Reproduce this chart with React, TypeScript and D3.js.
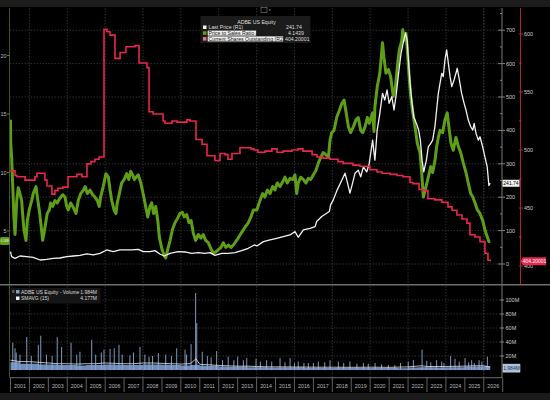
import React from "react";
import * as d3 from "d3";

// Price to Sales Ratio (L1) – [decimal year, ratio]
const priceToSales: [number, number][] = [
  [2001.0, 14.5], [2001.01, 12.5], [2001.06, 11.3], [2001.12, 8.8], [2001.18, 6.2], [2001.24, 4.7],
  [2001.33, 7.6], [2001.41, 8.7], [2001.5, 8.2], [2001.59, 7.6], [2001.64, 6.5], [2001.71, 5.1],
  [2001.82, 4.2], [2001.89, 5.9], [2001.99, 6.8], [2002.12, 7.6], [2002.2, 8.2], [2002.35, 8.8],
  [2002.42, 7.9], [2002.52, 6.8], [2002.6, 5.7], [2002.7, 4.2], [2002.77, 4.8], [2002.82, 5.3],
  [2002.88, 5.9], [2002.94, 6.5], [2003.05, 6.8], [2003.12, 7.4], [2003.23, 7.1], [2003.35, 7.6],
  [2003.47, 7.4], [2003.61, 7.8], [2003.76, 8.1], [2003.88, 7.9], [2003.97, 7.1], [2004.05, 6.8],
  [2004.18, 7.4], [2004.32, 7.0], [2004.46, 6.5], [2004.58, 7.6], [2004.71, 8.2], [2004.85, 8.5],
  [2004.94, 8.8], [2005.06, 8.2], [2005.2, 8.5], [2005.34, 8.1], [2005.46, 7.9], [2005.59, 7.6],
  [2005.69, 7.1], [2005.76, 7.9], [2005.9, 8.8], [2006.04, 9.9], [2006.17, 9.6], [2006.26, 8.5],
  [2006.35, 7.6], [2006.47, 6.8], [2006.57, 6.5], [2006.64, 7.4], [2006.75, 8.2], [2006.87, 9.1],
  [2007.0, 9.4], [2007.14, 9.9], [2007.25, 9.4], [2007.35, 10.1], [2007.45, 9.8], [2007.54, 9.4],
  [2007.75, 9.8], [2007.89, 9.1], [2008.02, 8.1], [2008.14, 7.1], [2008.25, 6.2], [2008.37, 7.1],
  [2008.46, 7.4], [2008.56, 6.5], [2008.67, 7.1], [2008.78, 5.9], [2008.86, 4.5], [2008.99, 3.5],
  [2009.12, 2.9], [2009.2, 2.7], [2009.3, 3.4], [2009.43, 4.2], [2009.55, 5.1], [2009.69, 5.7],
  [2009.83, 6.1], [2009.95, 6.5], [2010.08, 6.6], [2010.18, 6.2], [2010.31, 6.4], [2010.43, 5.7],
  [2010.54, 5.9], [2010.66, 4.8], [2010.78, 4.2], [2010.92, 4.7], [2011.06, 4.4], [2011.18, 4.7],
  [2011.31, 4.2], [2011.45, 4.0], [2011.59, 3.5], [2011.71, 3.1], [2011.84, 3.2], [2011.98, 3.4],
  [2012.12, 3.6], [2012.24, 4.0], [2012.37, 3.6], [2012.51, 3.8], [2012.65, 3.6], [2012.77, 3.8],
  [2012.9, 4.1], [2013.03, 4.4], [2013.18, 4.8], [2013.3, 5.1], [2013.42, 5.4], [2013.56, 5.7],
  [2013.7, 6.2], [2013.83, 6.8], [2014.01, 6.8], [2014.18, 7.6], [2014.32, 8.2], [2014.44, 7.9],
  [2014.57, 8.5], [2014.71, 8.2], [2014.85, 8.8], [2014.97, 8.5], [2015.09, 9.1], [2015.24, 8.8],
  [2015.38, 9.2], [2015.5, 9.6], [2015.62, 9.1], [2015.77, 9.5], [2015.91, 9.4], [2016.03, 9.8],
  [2016.12, 8.2], [2016.2, 9.1], [2016.33, 9.6], [2016.47, 9.4], [2016.61, 9.1], [2016.73, 9.5],
  [2016.86, 9.4], [2017.0, 9.8], [2017.14, 10.2], [2017.26, 10.8], [2017.39, 11.3], [2017.52, 11.7],
  [2017.67, 11.5], [2017.79, 11.3], [2017.88, 12.8], [2017.97, 13.4], [2018.09, 13.6], [2018.23, 14.7],
  [2018.37, 15.3], [2018.5, 15.9], [2018.62, 16.2], [2018.73, 15.1], [2018.85, 13.9], [2018.97, 13.4],
  [2019.11, 13.9], [2019.25, 14.5], [2019.37, 14.7], [2019.5, 13.6], [2019.61, 13.4], [2019.73, 13.9],
  [2019.85, 14.7], [2019.95, 14.2], [2020.13, 15.1], [2020.2, 13.5], [2020.25, 15.6], [2020.37, 17.3],
  [2020.51, 18.5], [2020.65, 21.1], [2020.72, 19.9], [2020.83, 18.5], [2020.96, 18.8], [2021.08, 18.2],
  [2021.22, 16.5], [2021.33, 17.3], [2021.43, 19.0], [2021.54, 20.5], [2021.67, 21.3], [2021.72, 22.2],
  [2021.82, 21.3], [2021.89, 21.9], [2021.96, 20.5], [2022.07, 17.9], [2022.14, 16.5], [2022.25, 15.1],
  [2022.37, 13.9], [2022.49, 12.5], [2022.63, 11.7], [2022.72, 10.0], [2022.81, 7.9], [2022.95, 8.8],
  [2023.07, 9.6], [2023.2, 10.5], [2023.3, 10.0], [2023.43, 11.1], [2023.51, 12.2], [2023.6, 13.0],
  [2023.69, 13.6], [2023.83, 13.4], [2023.95, 14.5], [2024.07, 15.1], [2024.18, 13.6], [2024.27, 12.5],
  [2024.39, 11.9], [2024.53, 13.0], [2024.66, 12.2], [2024.78, 11.7], [2024.92, 10.8], [2025.06, 10.0],
  [2025.18, 9.1], [2025.31, 8.2], [2025.42, 7.9], [2025.54, 7.4], [2025.66, 6.8], [2025.8, 6.5],
  [2025.94, 5.9], [2026.06, 5.1], [2026.18, 4.5], [2026.27, 4.1], [2026.34, 4.1439],
];

// Last Price (R1)
const lastPrice: [number, number][] = [
  [2001.0, 37], [2001.06, 22], [2001.24, 17], [2001.5, 24], [2001.86, 22], [2002.2, 20],
  [2002.56, 12], [2002.91, 14], [2003.26, 17], [2003.61, 18], [2003.97, 22], [2004.32, 24],
  [2004.67, 26], [2005.03, 30], [2005.37, 27], [2005.73, 32], [2006.08, 42], [2006.43, 37],
  [2006.78, 42], [2007.14, 42], [2007.4, 42], [2007.75, 44], [2008.02, 37], [2008.37, 37],
  [2008.63, 40], [2008.89, 30], [2009.12, 24], [2009.43, 32], [2009.86, 37], [2010.22, 36],
  [2010.57, 32], [2010.92, 34], [2011.27, 32], [2011.54, 34], [2011.8, 26], [2012.16, 32],
  [2012.51, 32], [2012.86, 34], [2013.21, 40], [2013.56, 47], [2013.88, 57], [2014.01, 54],
  [2014.36, 67], [2014.71, 72], [2015.06, 77], [2015.41, 82], [2015.76, 87], [2016.03, 97],
  [2016.2, 80], [2016.47, 102], [2016.82, 107], [2017.09, 112], [2017.17, 127], [2017.44, 142],
  [2017.7, 152], [2017.84, 157], [2017.91, 177], [2018.05, 192], [2018.26, 222], [2018.5, 251],
  [2018.67, 272], [2018.79, 246], [2018.93, 212], [2019.02, 231], [2019.2, 272], [2019.37, 281],
  [2019.5, 261], [2019.64, 291], [2019.82, 276], [2019.95, 301], [2020.13, 371], [2020.25, 311],
  [2020.37, 401], [2020.51, 451], [2020.65, 511], [2020.77, 491], [2020.89, 521], [2021.0, 481],
  [2021.14, 501], [2021.26, 461], [2021.38, 511], [2021.5, 571], [2021.63, 631], [2021.74, 661],
  [2021.86, 691], [2021.95, 671], [2022.03, 601], [2022.12, 531], [2022.21, 481], [2022.3, 441],
  [2022.44, 421], [2022.56, 401], [2022.65, 371], [2022.74, 311], [2022.83, 276], [2022.97, 311],
  [2023.07, 351], [2023.2, 361], [2023.3, 371], [2023.42, 411], [2023.51, 461], [2023.6, 511],
  [2023.69, 541], [2023.78, 571], [2023.86, 561], [2023.95, 611], [2024.04, 641], [2024.13, 601],
  [2024.22, 561], [2024.31, 531], [2024.43, 551], [2024.53, 571], [2024.6, 586], [2024.71, 551],
  [2024.83, 511], [2024.96, 481], [2025.06, 461], [2025.18, 431], [2025.31, 411], [2025.42, 401],
  [2025.49, 421], [2025.59, 391], [2025.71, 371], [2025.8, 381], [2025.94, 351], [2026.06, 321],
  [2026.18, 291], [2026.27, 235], [2026.34, 241.74],
];

// Current Shares Outstanding (R2), millions – step start
const sharesOut: [number, number][] = [
  [2001.0, 482], [2001.24, 478], [2001.34, 477], [2001.77, 474], [2002.29, 477], [2002.4, 480],
  [2002.82, 474], [2002.93, 469], [2003.19, 462], [2003.35, 465], [2003.51, 467], [2003.77, 468],
  [2004.04, 477], [2004.51, 479], [2004.78, 477], [2005.04, 488], [2005.25, 490], [2005.46, 492],
  [2005.68, 494], [2005.94, 604], [2006.1, 602], [2006.26, 599], [2006.52, 579], [2006.79, 584],
  [2007.1, 589], [2007.58, 590], [2007.79, 575], [2008.21, 571], [2008.32, 533], [2008.53, 531],
  [2009.06, 525], [2009.16, 523], [2009.53, 525], [2009.8, 524], [2010.32, 526], [2010.48, 525],
  [2010.8, 509], [2011.12, 505], [2011.38, 495], [2011.8, 491], [2012.07, 497], [2012.33, 496],
  [2012.49, 492], [2012.7, 497], [2013.12, 502], [2013.7, 501], [2013.85, 500], [2014.07, 498],
  [2014.44, 499], [2014.81, 501], [2015.08, 498], [2015.4, 499], [2015.87, 500], [2016.19, 501],
  [2016.45, 499], [2016.93, 496], [2017.19, 494], [2017.51, 493], [2017.88, 492], [2018.3, 490],
  [2018.57, 488.5], [2019.09, 487], [2019.46, 486], [2019.99, 483], [2020.36, 481], [2020.63, 480],
  [2021.05, 479], [2021.42, 478], [2021.73, 477], [2022.1, 472], [2022.26, 471], [2022.58, 466],
  [2022.79, 465], [2023.05, 458], [2023.42, 457], [2023.79, 455], [2024.11, 451], [2024.32, 448],
  [2024.58, 444], [2024.85, 440.5], [2025.11, 437], [2025.27, 427], [2025.53, 425], [2025.8, 421],
  [2026.06, 411], [2026.22, 405], [2026.34, 404.20001],
];

// Volume (millions): dense base, spikes, 15-day moving average
const volumeBase: [number, number][] = [
  [2001.0, 11], [2001.5, 9], [2002.0, 9], [2002.5, 8], [2003.0, 8], [2003.5, 7], [2004.0, 7],
  [2004.5, 6.5], [2005.0, 7], [2005.5, 7], [2006.0, 8], [2006.5, 7.5], [2007.0, 7], [2007.5, 7],
  [2008.0, 8], [2008.5, 8], [2009.0, 7.5], [2009.5, 7], [2010.0, 6.5], [2010.5, 7], [2011.0, 6],
  [2011.5, 6], [2012.0, 5], [2012.5, 4.5], [2013.0, 4.5], [2013.5, 4], [2014.0, 4], [2014.5, 3.5],
  [2015.0, 3.5], [2015.5, 3.5], [2016.0, 3.5], [2016.5, 3], [2017.0, 3], [2018.0, 3], [2019.0, 3],
  [2020.0, 3], [2021.0, 3], [2021.5, 2.5], [2022.0, 3.5], [2022.5, 4], [2023.0, 4], [2023.5, 3.5],
  [2024.0, 4], [2024.5, 4], [2025.0, 4.5], [2025.5, 5], [2026.0, 5.5], [2026.34, 2],
];

const volumeSpikes: [number, number][] = [
  [2001.12, 39], [2001.24, 31], [2001.3, 25], [2001.5, 22], [2001.86, 47], [2002.1, 20],
  [2002.47, 36], [2002.6, 49], [2002.9, 22], [2003.2, 20], [2003.47, 47], [2003.7, 33],
  [2004.2, 39], [2004.5, 22], [2004.67, 26], [2005.29, 43], [2005.5, 22], [2005.8, 25],
  [2005.94, 29], [2006.26, 30], [2006.48, 31], [2006.73, 36], [2006.9, 22], [2007.31, 21],
  [2007.5, 25], [2007.84, 33], [2008.1, 22], [2008.32, 19], [2008.5, 20], [2008.81, 24],
  [2009.2, 22], [2009.5, 20], [2009.78, 31], [2010.22, 29], [2010.3, 22], [2010.54, 37],
  [2010.78, 110], [2010.84, 67], [2011.13, 26], [2011.4, 20], [2011.6, 18], [2011.89, 27],
  [2012.2, 14], [2012.5, 19], [2012.8, 14], [2013.0, 19], [2013.3, 14], [2013.48, 17],
  [2013.97, 16], [2014.2, 12], [2014.53, 14], [2014.8, 12], [2015.24, 17], [2015.5, 11],
  [2015.77, 17], [2016.0, 10], [2016.2, 12], [2016.5, 10], [2016.73, 10], [2017.0, 10],
  [2017.26, 12], [2017.6, 11], [2017.88, 14], [2018.32, 12], [2018.6, 10], [2018.93, 12],
  [2019.3, 9], [2019.64, 10], [2019.9, 9], [2020.26, 10], [2020.6, 8], [2020.96, 7],
  [2021.3, 7], [2021.6, 10], [2022.01, 12], [2022.28, 14], [2022.74, 29], [2022.99, 13],
  [2023.2, 11], [2023.51, 14], [2023.78, 12], [2023.9, 10], [2024.25, 20], [2024.48, 16],
  [2024.7, 12], [2025.01, 17], [2025.2, 11], [2025.36, 14], [2025.5, 10], [2025.75, 14],
  [2025.9, 12], [2026.19, 19],
];

const volumeSmavg: [number, number][] = [
  [2001.0, 14], [2001.5, 12], [2002.0, 12], [2002.5, 11], [2003.0, 10], [2003.5, 9], [2004.0, 9],
  [2004.5, 8.5], [2005.0, 9], [2005.5, 9], [2006.0, 10], [2006.5, 9.5], [2007.0, 9], [2007.5, 9],
  [2008.0, 10], [2008.5, 10], [2009.0, 9.5], [2009.5, 9], [2010.0, 8.5], [2010.5, 9], [2010.8, 16],
  [2011.0, 8], [2011.5, 7.5], [2012.0, 6.5], [2012.5, 6], [2013.0, 5.5], [2013.5, 5.5], [2014.0, 5],
  [2014.5, 4.5], [2015.0, 4.5], [2016.0, 4.3], [2017.0, 4], [2018.0, 4], [2019.0, 3.8],
  [2020.0, 4], [2021.0, 3.8], [2022.0, 4.5], [2022.7, 6], [2023.0, 5], [2024.0, 5], [2025.0, 5.5],
  [2025.5, 6], [2026.0, 6], [2026.34, 4.177],
];

const years = d3.range(2001, 2027);
const priceTicks = [0, 100, 200, 300, 400, 500, 600, 700];
const sharesTicks = [400, 450, 500, 550, 600];
const psTicks = [5, 10, 15, 20];
const volTicks = [20, 40, 60, 80, 100];

const FONT = "'Liberation Sans', Arial, sans-serif";

const toDate = (t: number) => {
  const y = Math.floor(t);
  const a = new Date(y, 0, 1).getTime();
  const b = new Date(y + 1, 0, 1).getTime();
  return new Date(a + (t - y) * (b - a));
};

export default function App() {
  const x = d3.scaleTime().domain([new Date(2001, 0, 1), new Date(2027, 0, 1)]).range([10.5, 502.7]);
  const yPrice = d3.scaleLinear().domain([0, 700]).range([264, 30.2]);
  const yPS = d3.scaleLinear().domain([0, 20]).range([289.5, 55.5]);
  const yShares = d3.scaleLinear().domain([400, 600]).range([266, 34]);
  const yVol = d3.scaleLinear().domain([0, 100]).range([370, 300]);

  const lineFor = (ys: d3.ScaleLinear<number, number>, curve = d3.curveLinear) =>
    d3.line<[number, number]>().x((d) => x(toDate(d[0]))).y((d) => ys(d[1])).curve(curve);

  const psPath = lineFor(yPS)(priceToSales) || "";
  const pricePath = lineFor(yPrice)(lastPrice) || "";
  const sharesPath = lineFor(yShares, d3.curveStepAfter)(sharesOut) || "";
  const smavgPath = lineFor(yVol)(volumeSmavg) || "";
  const baseArea =
    d3
      .area<[number, number]>()
      .x((d) => x(toDate(d[0])))
      .y0(yVol(0))
      .y1((d) => yVol(d[1]))
      .curve(d3.curveStepAfter)(volumeBase) || "";

  const evenYears = years.filter((y) => y % 2 === 0).concat([2026]);
  const gridColor = "#3b3b3b";
  const lastPS = priceToSales[priceToSales.length - 1][1];
  const lastPx = lastPrice[lastPrice.length - 1][1];
  const lastSh = sharesOut[sharesOut.length - 1][1];

  return (
    <svg
      width={550}
      height={400}
      style={{ position: "absolute", left: 0, top: 0, background: "#000" }}
      fontFamily={FONT}
    >
      <defs>
        <clipPath id="mainClip">
          <rect x={9.5} y={8} width={492.5} height={276} />
        </clipPath>
        <clipPath id="volClip">
          <rect x={9.5} y={286} width={492.5} height={91} />
        </clipPath>
      </defs>
      <rect x={0} y={0} width={550} height={400} fill="#000" />
      <rect x={0} y={0} width={550} height={7} fill="#1c1c1c" />
      <rect x={0} y={393} width={550} height={7} fill="#1a1a1a" />

      {/* grids */}
      {priceTicks.map((t) => (
        <line key={"hg" + t} x1={9.5} x2={502} y1={yPrice(t)} y2={yPrice(t)} stroke={gridColor} strokeDasharray="1.5,1.5" strokeWidth={0.8} />
      ))}
      {evenYears.map((y) => (
        <g key={"vg" + y}>
          <line x1={x(toDate(y))} x2={x(toDate(y))} y1={8} y2={284} stroke={gridColor} strokeDasharray="1.5,1.5" strokeWidth={0.8} />
          <line x1={x(toDate(y))} x2={x(toDate(y))} y1={286} y2={377} stroke={gridColor} strokeDasharray="1.5,1.5" strokeWidth={0.8} />
        </g>
      ))}
      {volTicks.map((t) => (
        <line key={"vh" + t} x1={9.5} x2={502} y1={yVol(t)} y2={yVol(t)} stroke={gridColor} strokeDasharray="1.5,1.5" strokeWidth={0.8} />
      ))}

      {/* main series */}
      <g clipPath="url(#mainClip)">
        <path d={psPath} fill="none" stroke="#5f9e17" strokeWidth={3} strokeLinejoin="round" />
        <path d={pricePath} fill="none" stroke="#f2f2f2" strokeWidth={1.3} strokeLinejoin="round" />
        <path d={sharesPath} fill="none" stroke="#e8264e" strokeWidth={1.6} />
      </g>

      {/* axes of main panel */}
      <line x1={9.5} x2={9.5} y1={8} y2={377} stroke="#3d5530" strokeWidth={1} />
      {psTicks.map((t) => (
        <g key={"ps" + t}>
          <line x1={7} x2={9.5} y1={yPS(t)} y2={yPS(t)} stroke="#6aa020" strokeWidth={0.8} />
          <text x={6.5} y={yPS(t) + 2} fontSize={5.5} fill="#bbb" textAnchor="end">{t}</text>
        </g>
      ))}
      <line x1={502} x2={502} y1={8} y2={378} stroke="#777" strokeWidth={1} />
      {d3.range(0, 751, 50).map((t) => (
        <line key={"pt" + t} x1={t % 100 === 0 ? 498 : 500} x2={t % 100 === 0 ? 505 : 502} y1={yPrice(t)} y2={yPrice(t)} stroke="#999" strokeWidth={0.8} />
      ))}
      {priceTicks.map((t) => (
        <text key={"pl" + t} x={506} y={yPrice(t) + 2} fontSize={5.5} fill="#ccc">{t}</text>
      ))}
      <line x1={520.5} x2={520.5} y1={8} y2={284} stroke="#b51a38" strokeWidth={1} />
      {d3.range(400, 611, 25).map((t) => (
        <line key={"st" + t} x1={519} x2={t % 50 === 0 ? 523 : 521.5} y1={yShares(t)} y2={yShares(t)} stroke="#e8264e" strokeWidth={0.8} />
      ))}
      {sharesTicks.map((t) => (
        <text key={"sl" + t} x={524} y={yShares(t) + 2} fontSize={5.5} fill="#ccc">{t}</text>
      ))}

      {/* value tags */}
      <rect x={0} y={yPS(lastPS) - 4} width={9.5} height={8} rx={1.5} fill="#5f9e17" />
      <text x={4.8} y={yPS(lastPS) + 1} fontSize={2.6} fill="#fff" textAnchor="middle">{lastPS}</text>
      <rect x={502.5} y={yPrice(lastPx) - 3.5} width={17} height={7} fill="#f2f2f2" />
      <text x={511} y={yPrice(lastPx) + 1.8} fontSize={5} fill="#000" textAnchor="middle">{lastPx}</text>
      <path
        d={`M520.5,${yShares(lastSh)} L523,${yShares(lastSh) - 4} L546,${yShares(lastSh) - 4} L546,${yShares(lastSh) + 4} L523,${yShares(lastSh) + 4} Z`}
        fill="#e8264e"
      />
      <text x={534.5} y={yShares(lastSh) + 1.8} fontSize={5} fill="#fff" textAnchor="middle">{lastSh}</text>

      {/* legend */}
      <rect x={261} y={7.5} width={6} height={5} fill="none" stroke="#888" strokeWidth={0.6} />
      <path d="M268.5,9.5 L271,9.5 L269.75,11 Z" fill="#888" />
      <rect x={200.5} y={16} width={110} height={27} fill="#1b1b1b" />
      <text x={256.5} y={23.5} fontSize={5.2} fill="#ddd" textAnchor="middle">ADBE US Equity</text>
      <rect x={203} y={25.5} width={3.5} height={3.5} fill="#f2f2f2" />
      <text x={208.5} y={29} fontSize={5.2} fill="#ddd">Last Price  (R1)</text>
      <text x={286} y={29} fontSize={5.2} fill="#ddd">{lastPx}</text>
      <rect x={203} y={31.3} width={3.5} height={3.5} fill="#5f9e17" />
      <rect x={207.7} y={30.6} width={48.5} height={5} fill="#f0f0f0" />
      <text x={208.5} y={34.8} fontSize={5.2} fill="#111">Price to Sales Ratio  (L1)</text>
      <text x={288} y={34.8} fontSize={5.2} fill="#ddd">{lastPS}</text>
      <rect x={203} y={37.1} width={3.5} height={3.5} fill="#f06b86" />
      <rect x={207.7} y={36.4} width={75.5} height={5} fill="#f0f0f0" />
      <text x={208.5} y={40.6} fontSize={5.2} fill="#111">Current Shares Outstanding  (R2)</text>
      <text x={285} y={40.6} fontSize={5.2} fill="#ddd">{lastSh}</text>

      {/* panel separator */}
      <line x1={0} x2={550} y1={284.8} y2={284.8} stroke="#6f6f6f" strokeWidth={1.5} />

      {/* volume panel */}
      <g clipPath="url(#volClip)">
        <path d={baseArea} fill="#6d8dba" />
        {volumeSpikes.map(([t, v]) => (
          <line key={"vs" + t} x1={x(toDate(t))} x2={x(toDate(t))} y1={yVol(0)} y2={yVol(v)} stroke="#8eaad2" strokeWidth={0.9} />
        ))}
        <path d={smavgPath} fill="none" stroke="#e6e6e6" strokeWidth={0.8} />
      </g>
      {volTicks.map((t) => (
        <g key={"vt" + t}>
          <line x1={500} x2={504} y1={yVol(t)} y2={yVol(t)} stroke="#999" strokeWidth={0.8} />
          <text x={505.5} y={yVol(t) + 2} fontSize={5.5} fill="#ccc">{t}M</text>
        </g>
      ))}
      <rect x={503} y={yVol(1.984) - 4.5} width={17} height={8} fill="#a9bedb" stroke="#e8eef8" strokeWidth={0.5} />
      <text x={511.5} y={yVol(1.984) + 1.5} fontSize={5} fill="#1d3557" textAnchor="middle">1.984M</text>

      <rect x={10.5} y={288} width={90} height={15.5} fill="#151515" />
      <rect x={12} y={290} width={2.5} height={3} fill="#555" />
      <rect x={16} y={290} width={3.5} height={3.5} fill="#7f9cc6" />
      <text x={21} y={293.6} fontSize={5} fill="#ddd">ADBE US Equity - Volume</text>
      <text x={97} y={293.6} fontSize={5} fill="#ddd" textAnchor="end">1.984M</text>
      <rect x={16} y={296.5} width={3.5} height={3.5} fill="#f2f2f2" />
      <text x={21} y={300.2} fontSize={5} fill="#ddd">SMAVG (15)</text>
      <text x={97} y={300.2} fontSize={5} fill="#ddd" textAnchor="end">4.177M</text>

      {/* date axis */}
      <line x1={9.5} x2={502} y1={377.7} y2={377.7} stroke="#888" strokeWidth={0.8} />
      {years.concat([2027]).map((y) => (
        <line key={"ys" + y} x1={x(toDate(y))} x2={x(toDate(y))} y1={378} y2={392} stroke="#8a8a8a" strokeWidth={0.7} />
      ))}
      {years.map((y) => (
        <text key={"yl" + y} x={x(toDate(y + 0.5))} y={388} fontSize={5.3} fill="#bbb" textAnchor="middle">{y}</text>
      ))}
    </svg>
  );
}
